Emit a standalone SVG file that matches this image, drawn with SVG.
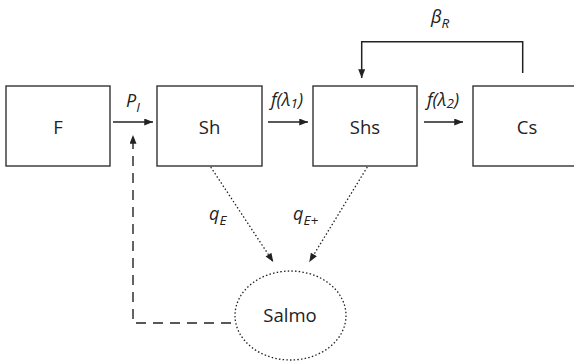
<svg xmlns="http://www.w3.org/2000/svg" width="574" height="363" viewBox="0 0 574 363">
<style>
.box{fill:#fff;stroke:#333;stroke-width:1.4}
.lbl{font-family:"Open Sans","Noto Sans",sans-serif;font-size:18.5px;fill:#222;text-anchor:middle}
.it{font-family:"Open Sans","Noto Sans",sans-serif;font-style:italic;font-size:18px;fill:#222}
.sub{font-size:13.5px}
.ln{fill:none;stroke:#222;stroke-width:1.5}
.dot{fill:none;stroke:#222;stroke-width:1.3;stroke-dasharray:1.5 2.2}
.dash{fill:none;stroke:#222;stroke-width:1.4;stroke-dasharray:10 7}
</style>
<defs>
<marker id="ah" viewBox="0 0 10 8" refX="10" refY="4" markerWidth="10" markerHeight="7" markerUnits="userSpaceOnUse" orient="auto">
<path d="M0,0 L10,4 L0,8 Z" fill="#222"/>
</marker>
</defs>
<g id="F"><rect class="box" x="6" y="86" width="104" height="80"/><text class="lbl" x="58" y="134">F</text></g>
<g id="Sh"><rect class="box" x="157" y="86" width="105" height="80"/><text class="lbl" x="209.5" y="134">Sh</text></g>
<g id="Shs"><rect class="box" x="313" y="86" width="104" height="80"/><text class="lbl" x="365" y="134">Shs</text></g>
<g id="Cs"><rect class="box" x="473" y="86" width="104" height="80"/><text class="lbl" x="527" y="134">Cs</text></g>
<g id="Salmo"><ellipse cx="290.5" cy="315.5" rx="55.5" ry="44.5" class="dot"/><text class="lbl" x="290" y="322">Salmo</text></g>
<g id="connectors">
<line class="ln" x1="113" y1="122" x2="153" y2="122" marker-end="url(#ah)"/>
<line class="ln" x1="268" y1="122" x2="308" y2="122" marker-end="url(#ah)"/>
<line class="ln" x1="424" y1="122" x2="463" y2="122" marker-end="url(#ah)"/>
<polyline class="ln" points="522.7,73 522.7,41.7 361.7,41.7 361.7,78" marker-end="url(#ah)"/>
<line class="dot" x1="210.7" y1="167" x2="273.3" y2="262" marker-end="url(#ah)"/>
<line class="dot" x1="367.3" y1="167" x2="309.3" y2="262" marker-end="url(#ah)"/>
<polyline class="dash" points="231,323 133,323 133,135" marker-end="url(#ah)"/>
</g>
<g id="labels">
<text class="it" x="126" y="107">P<tspan class="sub" dy="5">I</tspan></text>
<text class="it" x="271" y="106">f(λ<tspan class="sub" dy="2">1</tspan><tspan dy="-2">)</tspan></text>
<text class="it" x="427" y="106">f(λ<tspan class="sub" dy="2">2</tspan><tspan dy="-2">)</tspan></text>
<text class="it" x="431" y="23">β<tspan class="sub" dy="5">R</tspan></text>
<text class="it" x="209" y="220">q<tspan class="sub" dy="5">E</tspan></text>
<text class="it" x="293" y="220">q<tspan class="sub" dy="5">E+</tspan></text>
</g>
</svg>
